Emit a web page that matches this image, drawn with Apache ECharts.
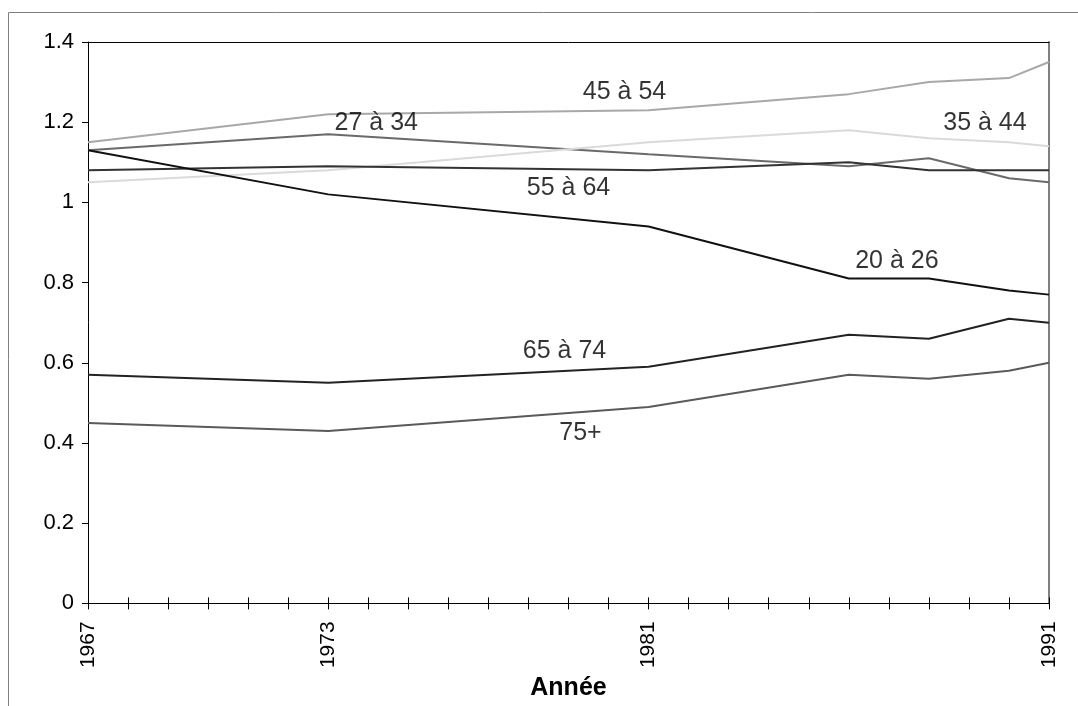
<!DOCTYPE html>
<html>
<head>
<meta charset="utf-8">
<script src="https://cdn.jsdelivr.net/npm/echarts@6/dist/echarts.min.js"></script>
<style>
html,body{margin:0;padding:0;background:#fff;}
#chart{width:1078px;height:706px;}
</style>
</head>
<body>
<div id="chart"></div>
<script>
// ---- data ----
const years = [1967, 1973, 1981, 1986, 1988, 1990, 1991];
const xTickLabels = [1967, 1973, 1981, 1991];
const yTicks = [0, 0.2, 0.4, 0.6, 0.8, 1, 1.2, 1.4];

const s20_26 = [1.13, 1.02, 0.94, 0.81, 0.81, 0.78, 0.77];
const s27_34 = [1.13, 1.17, 1.12, 1.09, 1.11, 1.06, 1.05];
const s35_44 = [1.05, 1.08, 1.15, 1.18, 1.16, 1.15, 1.14];
const s45_54 = [1.15, 1.22, 1.23, 1.27, 1.30, 1.31, 1.35];
const s55_64 = [1.08, 1.09, 1.08, 1.10, 1.08, 1.08, 1.08];
const s65_74 = [0.57, 0.55, 0.59, 0.67, 0.66, 0.71, 0.70];
const s75p   = [0.45, 0.43, 0.49, 0.57, 0.56, 0.58, 0.60];

const seriesNames = ['20 à 26', '27 à 34', '35 à 44', '45 à 54', '55 à 64', '65 à 74', '75+'];
const seriesValues = [s20_26, s27_34, s35_44, s45_54, s55_64, s65_74, s75p];

// label anchors (data coordinates: year, value)
const labelYears  = [1987.2, 1974.2, 1989.4, 1980.4, 1979.0, 1978.9, 1979.3];
const labelValues = [0.853, 1.197, 1.197, 1.274, 1.035, 0.629, 0.425];

// ---- styles ----
const colors = ['#111111', '#6a6a6a', '#dadada', '#a8a8a8', '#333333', '#222222', '#5a5a5a'];
const FONT = '"Liberation Sans", Arial, sans-serif';

const chart = echarts.init(document.getElementById('chart'), null, {renderer: 'canvas'});

const lineSeries = seriesNames.map((n, i) => ({
  name: n,
  type: 'line',
  xAxisIndex: 0,
  yAxisIndex: 0,
  data: years.map((y, j) => [y, seriesValues[i][j]]),
  symbol: 'none',
  lineStyle: {color: colors[i], width: 2},
  itemStyle: {color: colors[i]},
  z: 3 + (i === 0 ? 2 : 0)
}));

const labelSeries = {
  type: 'scatter',
  xAxisIndex: 0,
  yAxisIndex: 0,
  symbolSize: 1,
  itemStyle: {color: 'rgba(0,0,0,0)'},
  silent: true,
  z: 10,
  data: seriesNames.map((n, i) => ({value: [labelYears[i], labelValues[i]], name: n})),
  label: {
    show: true,
    position: 'inside',
    formatter: p => p.name,
    color: '#000000',
    textBorderWidth: 0,
    fontSize: 25,
    fontFamily: FONT
  }
};

chart.setOption({
  animation: false,
  backgroundColor: '#fff',
  grid: {left: 88, right: 29, top: 42, bottom: 101, containLabel: false},
  graphic: [{
    type: 'rect',
    shape: {x: 8.5, y: 12.5, width: 1200, height: 900},
    style: {fill: 'none', stroke: '#808080', lineWidth: 1},
    silent: true,
    z: -10
  }],
  xAxis: [{
    type: 'value',
    min: 1967, max: 1991, interval: 1,
    position: 'bottom',
    name: 'Année',
    nameLocation: 'middle',
    nameGap: 68,
    nameTextStyle: {fontSize: 25, fontWeight: 'bold', color: '#000', fontFamily: FONT},
    axisLine: {show: true, lineStyle: {color: '#000', width: 1}},
    axisTick: {show: true, length: 6, lineStyle: {color: '#000'}},
    splitLine: {show: false},
    axisLabel: {
      show: true,
      rotate: 90,
      margin: 18,
      fontSize: 21,
      color: '#000',
      fontFamily: FONT,
      formatter: v => xTickLabels.indexOf(v) >= 0 ? String(v) : ''
    }
  }, {
    type: 'value',
    min: 1967, max: 1991, interval: 1,
    position: 'bottom',
    axisLine: {show: false},
    axisTick: {show: true, inside: true, length: 6, lineStyle: {color: '#000'}},
    axisLabel: {show: false},
    splitLine: {show: false}
  }, {
    type: 'value',
    min: 1967, max: 1991,
    position: 'top',
    axisLine: {show: true, lineStyle: {color: '#000', width: 1}},
    axisTick: {show: false},
    axisLabel: {show: false},
    splitLine: {show: false}
  }],
  yAxis: [{
    type: 'value',
    min: yTicks[0], max: yTicks[yTicks.length - 1], interval: 0.2,
    position: 'left',
    axisLine: {show: true, lineStyle: {color: '#000', width: 1}},
    axisTick: {show: true, length: 6, lineStyle: {color: '#000'}},
    splitLine: {show: false},
    axisLabel: {
      margin: 14,
      fontSize: 22,
      color: '#000',
      fontFamily: FONT,
      formatter: v => String(Math.round(v * 10) / 10)
    }
  }, {
    type: 'value',
    min: 0, max: 1.4,
    position: 'right',
    axisLine: {show: true, lineStyle: {color: '#808080', width: 2}},
    axisTick: {show: false},
    axisLabel: {show: false},
    splitLine: {show: false}
  }],
  series: [...lineSeries, labelSeries]
});
</script>
</body>
</html>
